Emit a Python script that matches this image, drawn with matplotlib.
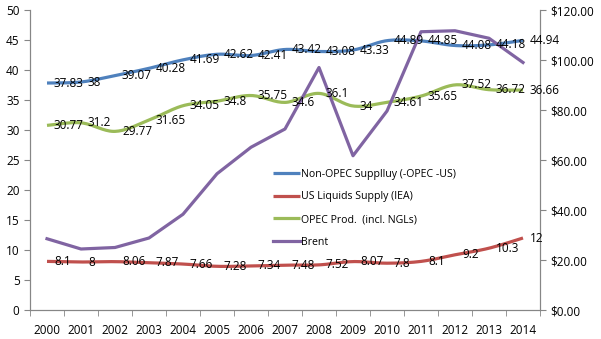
import numpy as np
import matplotlib.pyplot as plt

# Data
years = [str(y) for y in range(2000, 2015)]
non_opec = [37.83, 38, 39.07, 40.28, 41.69, 42.62, 42.41, 43.42, 43.08, 43.33, 44.89, 44.85, 44.08, 44.18, 44.94]
us_liquids = [8.1, 8, 8.06, 7.87, 7.66, 7.28, 7.34, 7.48, 7.52, 8.07, 7.8, 8.1, 9.2, 10.3, 12]
opec = [30.77, 31.2, 29.77, 31.65, 34.05, 34.8, 35.75, 34.6, 36.1, 34, 34.61, 35.65, 37.52, 36.72, 36.66]
brent = [28.5, 24.4, 25.0, 28.8, 38.3, 54.5, 65.1, 72.4, 97.0, 61.7, 79.6, 111.3, 111.7, 108.7, 99.0]

labels = ["Non-OPEC Supplluy (-OPEC -US)", "US Liquids Supply (IEA)",
          "OPEC Prod.  (incl. NGLs)", "Brent"]
colors = ["#4F81BD", "#C0504D", "#9BBB59", "#8064A2"]

plt.rcParams['font.family'] = ['Open Sans', 'DejaVu Sans']


def smooth(x, y, n=20):
    # catmull-rom style smoothing like excel's smoothed line
    x = np.asarray(x, float)
    y = np.asarray(y, float)
    px = np.concatenate([[x[0]], x, [x[-1]]])
    py = np.concatenate([[y[0]], y, [y[-1]]])
    xs, ys = [], []
    for i in range(1, len(px) - 2):
        p0, p1, p2, p3 = (px[i-1], py[i-1]), (px[i], py[i]), (px[i+1], py[i+1]), (px[i+2], py[i+2])
        c1 = (p1[0] + (p2[0] - p0[0]) / 6, p1[1] + (p2[1] - p0[1]) / 6)
        c2 = (p2[0] - (p3[0] - p1[0]) / 6, p2[1] - (p3[1] - p1[1]) / 6)
        t = np.linspace(0, 1, n)
        bx = (1-t)**3*p1[0] + 3*(1-t)**2*t*c1[0] + 3*(1-t)*t**2*c2[0] + t**3*p2[0]
        by = (1-t)**3*p1[1] + 3*(1-t)**2*t*c1[1] + 3*(1-t)*t**2*c2[1] + t**3*p2[1]
        xs.extend(bx)
        ys.extend(by)
    return xs, ys


fig = plt.figure(figsize=(6.01, 3.39), dpi=100)
ax = fig.add_axes([30/601, 29/339, 510/601, 300/339])
ax2 = ax.twinx()

x = np.arange(len(years))
handles = []
for vals, col, lab in zip([non_opec, us_liquids, opec], colors[:3], labels[:3]):
    sx, sy = smooth(x, vals)
    h, = ax.plot(sx, sy, color=col, lw=2.3, label=lab, solid_capstyle='butt')
    handles.append(h)

# brent on the secondary axis, drawn above the other lines
h, = ax2.plot(x, brent, color=colors[3], lw=2.3, label=labels[3])
handles.append(h)

# data labels on top of everything
for vals in [non_opec, us_liquids, opec]:
    for xi, v in zip(x, vals):
        ax2.annotate(f"{v:g}", (xi, v), xycoords=ax.transData, xytext=(5, 0),
                     textcoords='offset points', ha='left', va='center',
                     fontsize=8.5, color='black', zorder=5)

ax.set_xlim(-0.5, len(years) - 0.5)
ax.set_ylim(0, 50)
ax.set_yticks(range(0, 51, 5))
ax2.set_ylim(0, 120)
ax2.set_yticks(range(0, 121, 20))
ax2.set_yticklabels([f"${v:.2f}" for v in range(0, 121, 20)])

ax.set_xticks(x)
ax.set_xticklabels(years)
ax.set_xticks(np.arange(-0.5, len(years), 1), minor=True)
ax.tick_params(axis='x', which='major', length=0, pad=10, labelsize=8.5)
ax.tick_params(axis='x', which='minor', length=4, color='#868686')
ax.tick_params(axis='y', length=4, color='#868686', labelsize=8.5)
ax2.tick_params(axis='y', length=4, color='#868686', labelsize=8.5)

for a in (ax, ax2):
    a.spines['top'].set_visible(False)
    for s in ('left', 'right', 'bottom'):
        a.spines[s].set_color('#868686')

fig.legend(handles=handles, loc='upper left', bbox_to_anchor=(263/601, 1 - 159/339),
           frameon=False, fontsize=7.6, handlelength=2.6, handletextpad=0.1,
           labelspacing=1.12)

fig.savefig("out.png", dpi=100)
